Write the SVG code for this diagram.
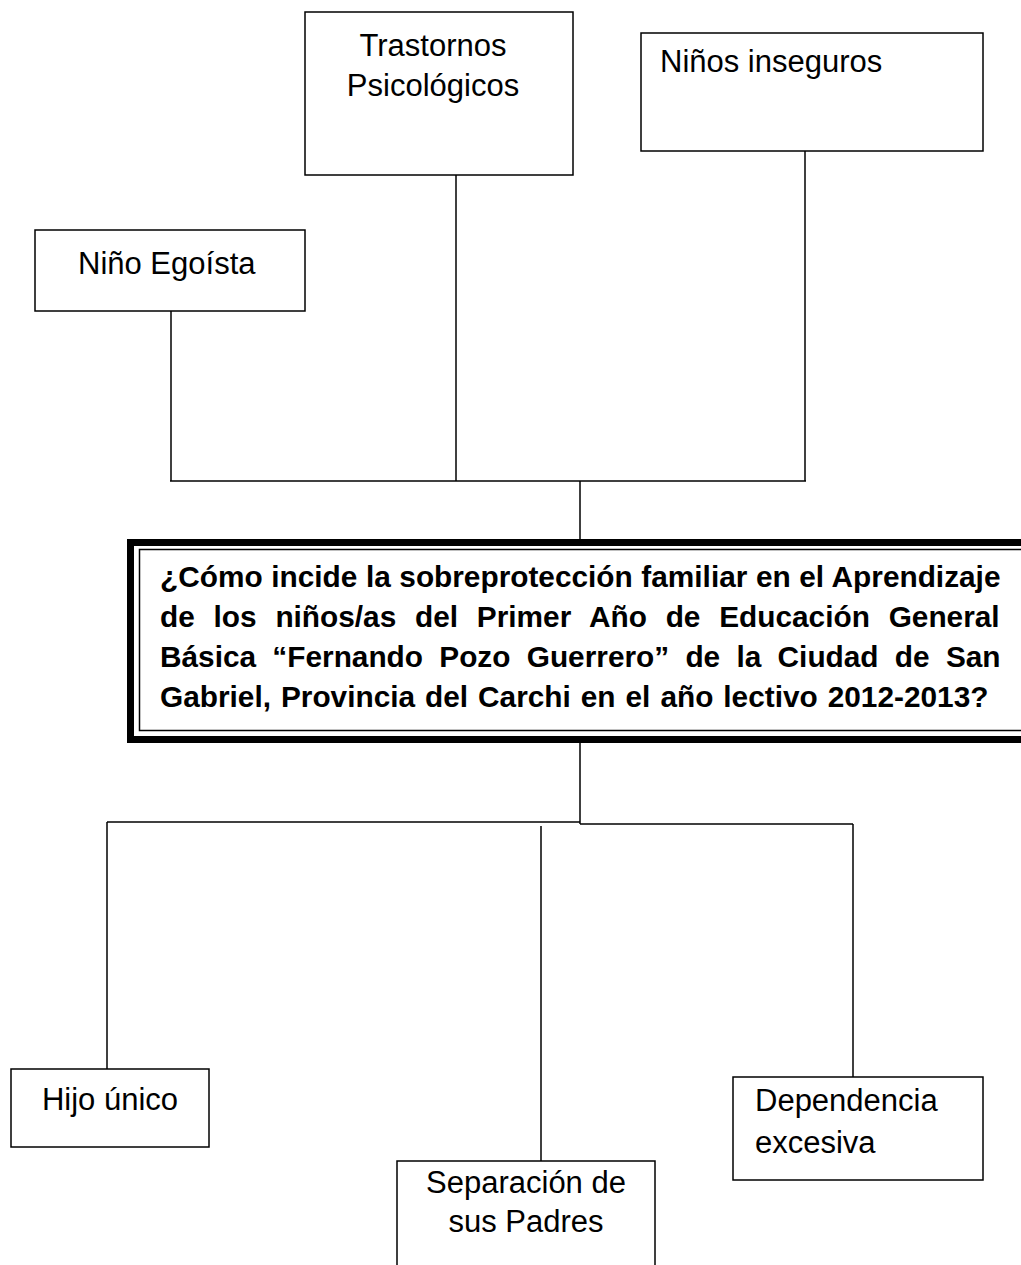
<svg xmlns="http://www.w3.org/2000/svg" width="1021" height="1265" viewBox="0 0 1021 1265">
<style>
.box{fill:#fff;stroke:#000;stroke-width:1.5}
.conn line, .conn polyline{stroke:#000;stroke-width:1.5;fill:none}
.lbl{font-family:"Liberation Sans",Arial,sans-serif;font-size:31px;fill:#000}
.q{font-family:"Liberation Sans",Arial,sans-serif;font-size:29.8px;font-weight:bold;fill:#000}
</style>
<rect width="1021" height="1265" fill="#fff"/>
<g id="connectors" class="conn">
<line x1="171" y1="311" x2="171" y2="481"/>
<line x1="456" y1="175" x2="456" y2="481"/>
<line x1="805" y1="151" x2="805" y2="481"/>
<line x1="170" y1="481" x2="806" y2="481"/>
<line x1="580" y1="481" x2="580" y2="540"/>
<line x1="580" y1="743" x2="580" y2="824"/>
<line x1="107" y1="822" x2="580" y2="822"/>
<line x1="580" y1="824" x2="853" y2="824"/>
<line x1="107" y1="822" x2="107" y2="1069"/>
<line x1="853" y1="824" x2="853" y2="1077"/>
<line x1="541" y1="826" x2="541" y2="1161"/>
</g>
<g id="n-trastornos">
<rect class="box" x="305" y="12" width="268" height="163"/>
<text class="lbl" x="433" y="56" text-anchor="middle">Trastornos</text>
<text class="lbl" x="433" y="96" text-anchor="middle">Psicológicos</text>
</g>
<g id="n-inseguros">
<rect class="box" x="641" y="33" width="342" height="118"/>
<text class="lbl" x="660" y="72">Niños inseguros</text>
</g>
<g id="n-egoista">
<rect class="box" x="35" y="230" width="270" height="81"/>
<text class="lbl" x="78" y="274">Niño Egoísta</text>
</g>
<g id="n-central">
<rect x="130.5" y="542.5" width="900" height="197" fill="#fff" stroke="#000" stroke-width="7"/>
<rect x="139.5" y="549.5" width="900" height="181" fill="none" stroke="#000" stroke-width="1.5"/>
<text class="q" x="160" y="587" word-spacing="0.3">¿Cómo incide la sobreprotección familiar en el Aprendizaje</text>
<text class="q" x="160" y="627" word-spacing="10.5">de los niños/as del Primer Año de Educación General</text>
<text class="q" x="160" y="667" word-spacing="8">Básica “Fernando Pozo Guerrero” de la Ciudad de San</text>
<text class="q" x="160" y="707" word-spacing="1.7">Gabriel, Provincia del Carchi en el año lectivo 2012-2013?</text>
</g>
<g id="n-hijo">
<rect class="box" x="11" y="1069" width="198" height="78"/>
<text class="lbl" x="110" y="1110" text-anchor="middle">Hijo único</text>
</g>
<g id="n-dependencia">
<rect class="box" x="733" y="1077" width="250" height="103"/>
<text class="lbl" x="755" y="1111">Dependencia</text>
<text class="lbl" x="755" y="1153">excesiva</text>
</g>
<g id="n-separacion">
<rect class="box" x="397" y="1161" width="258" height="120"/>
<text class="lbl" x="526" y="1193" text-anchor="middle">Separación de</text>
<text class="lbl" x="526" y="1232" text-anchor="middle">sus Padres</text>
</g>
</svg>
